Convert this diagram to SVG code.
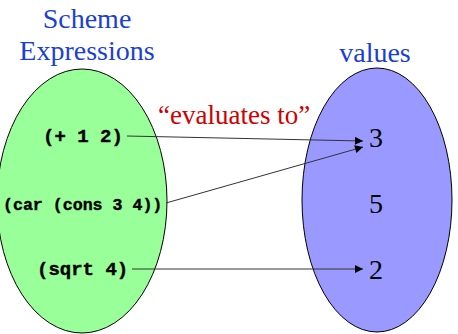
<svg xmlns="http://www.w3.org/2000/svg" width="458" height="334" viewBox="0 0 458 334">
<defs>
<style>
.title{font-family:"Liberation Serif","Times New Roman",serif;font-size:28px;fill:#1a3fd6;text-anchor:middle}
.num{font-family:"Liberation Serif","Times New Roman",serif;font-size:28px;fill:#000;text-anchor:middle}
.code{font-family:"Liberation Mono","Courier New",monospace;font-weight:bold;font-size:19px;fill:#000;stroke:#000;stroke-width:0.4}
.lbl{font-family:"Liberation Serif","Times New Roman",serif;font-size:27px;fill:#d00000}
.conn{stroke:#333;stroke-width:1;fill:none;marker-end:url(#ah)}
</style>
<marker id="ah" viewBox="0 0 10 10" refX="10" refY="5" markerWidth="10" markerHeight="8" markerUnits="userSpaceOnUse" orient="auto">
<path d="M0,0 L10,5 L0,10 Z" fill="#000"/>
</marker>
</defs>
<rect width="458" height="334" fill="#fff"/>
<g id="expressions">
<ellipse cx="82" cy="201" rx="85" ry="132" fill="#99ff99" stroke="#000" stroke-width="1"/>
<text class="title" x="87" y="28">Scheme</text>
<text class="title" x="87" y="60">Expressions</text>
</g>
<g id="values">
<ellipse cx="377" cy="200" rx="75" ry="132" fill="#9999ff" stroke="#000" stroke-width="1"/>
<text class="title" x="375" y="62">values</text>
</g>
<g id="expr-add"><text class="code" x="43" y="142">(+ 1 2)</text></g>
<g id="expr-car"><text class="code" x="3" y="210" style="font-size:16.6px">(car (cons 3 4))</text></g>
<g id="expr-sqrt"><text class="code" x="37" y="275">(sqrt 4)</text></g>
<g id="val-3"><text class="num" x="376" y="147">3</text></g>
<g id="val-5"><text class="num" x="376" y="213">5</text></g>
<g id="val-2"><text class="num" x="376" y="279">2</text></g>
<text class="lbl" x="158" y="124">“evaluates to”</text>
<g id="connectors">
<line class="conn" x1="127" y1="136" x2="363" y2="141"/>
<line class="conn" x1="166" y1="203" x2="363" y2="147"/>
<line class="conn" x1="132" y1="269" x2="363" y2="269"/>
</g>
</svg>
